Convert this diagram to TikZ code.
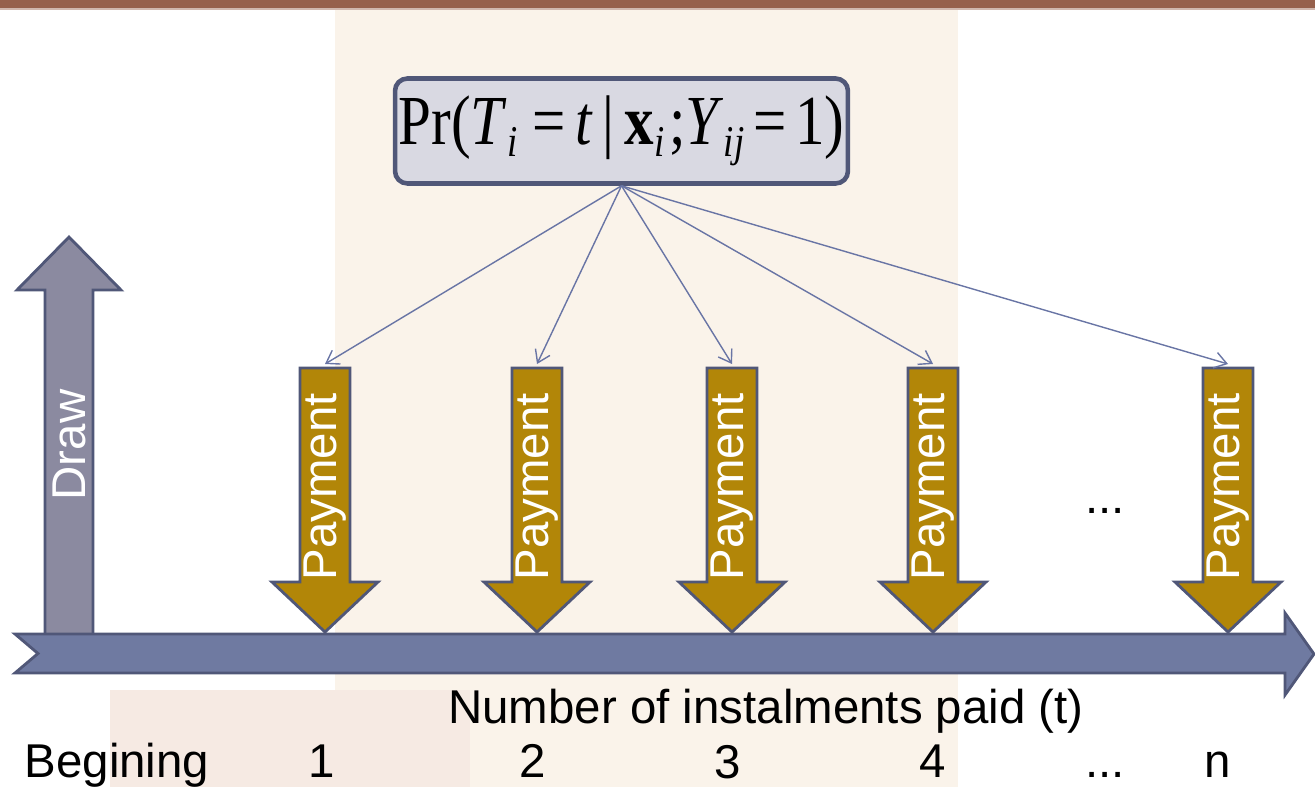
\documentclass[tikz,border=0pt]{standalone}
\usepackage{fontspec}
\setmainfont{Liberation Sans}
\newfontfamily\formfont{Liberation Serif}
\usepackage{graphicx}
\usepackage{tikz}
\usetikzlibrary{arrows.meta}

\definecolor{barbrown}{RGB}{150,96,76}
\definecolor{edgeblue}{RGB}{80,87,120}
\definecolor{drawgray}{RGB}{139,138,160}
\definecolor{axisblue}{RGB}{111,122,161}
\definecolor{paygold}{RGB}{178,134,8}
\definecolor{boxgray}{RGB}{217,217,226}
\definecolor{connblue}{RGB}{105,117,165}
\definecolor{glassbeige}{RGB}{250,243,234}
\definecolor{glasspink}{RGB}{246,234,227}

\newcommand{\idx}[1]{\raisebox{-0.17em}{\fontsize{25}{25}\selectfont\itshape #1}}

\begin{document}
\begin{tikzpicture}[
  x=0.02cm, y=-0.02cm,
  font=\fontsize{27}{32}\selectfont,
  shaft/.style={draw=edgeblue, line width=1.6pt, line join=miter},
  paytext/.style={rotate=90, text=white, inner sep=0pt},
  probbox/.style={draw=edgeblue, line width=2.6pt, fill=boxgray, rounded corners=7pt,
    minimum width=9.06cm, minimum height=2.1cm, inner sep=0pt,
    font=\formfont\fontsize{40}{44}\selectfont},
  conn/.style={draw=connblue, line width=0.8pt, -{Straight Barb[length=2.4mm,width=3.2mm]}},
  lbl/.style={anchor=base, inner sep=0pt}
]
  \useasboundingbox (0,0) rectangle (1315,787);

  % faded hourglass behind
  \fill[glassbeige] (335,8) rectangle (958,787);
  \fill[glasspink] (110,690) rectangle (470,787);

  \fill[barbrown] (0,0) rectangle (1315,8);
  \draw[barbrown!45, line width=0.6pt] (0,9) -- (1315,9);

  % draw arrow and time axis
  \draw[shaft, fill=drawgray] (45,633) -- (45,290) -- (17,290) -- (69,237) -- (121,290) -- (93,290) -- (93,633);
  \node[paytext] (draw) at (69,445) {Draw};
  \draw[shaft, fill=axisblue] (15,634) -- (1285,634) -- (1285,613) -- (1314,654) -- (1285,695)
    -- (1285,673) -- (15,673) -- (38,653.5) -- cycle;

  % payments
  \foreach \n/\x in {1/325,2/537,3/732,4/933,5/1228} {
    \draw[shaft, fill=paygold] ({\x-25},368) -- ({\x+25},368) -- ({\x+25},582) -- ({\x+53},582)
      -- (\x,632) -- ({\x-53},582) -- ({\x-25},582) -- cycle;
    \node[paytext] (pay\n) at (\x,487) {Payment};
    \coordinate (top\n) at (\x,364);
  }
  \node[lbl] (gap) at (1105,513) {...};

  \node[probbox] (prob) at (621.5,131) {\scalebox{0.84}[1]{Pr(\textit{T}\idx{i}\hspace{0.25em}=\hspace{0.17em}\textit{t}\hspace{0.17em}|\hspace{0.17em}\textbf{x}\idx{i}\hspace{0.08em};\textit{Y}\idx{ij}\hspace{0.15em}=\hspace{0.15em}1)}};
  \foreach \n in {1,...,5} \draw[conn] (prob.south) -- (top\n);

  % axis labels
  \node[lbl] (axis) at (766,723) {Number of instalments paid (t)};
  \node[lbl] (start) at (117,777) {Begining};
  \node[lbl] (t1) at (322,777) {1};
  \node[lbl] (t2) at (533,777) {2};
  \node[lbl] (t3) at (728,778) {3};
  \node[lbl] (t4) at (933,777) {4};
  \node[lbl] (tdots) at (1105,777) {...};
  \node[lbl] (tn) at (1218,777) {n};
\end{tikzpicture}
\end{document}
